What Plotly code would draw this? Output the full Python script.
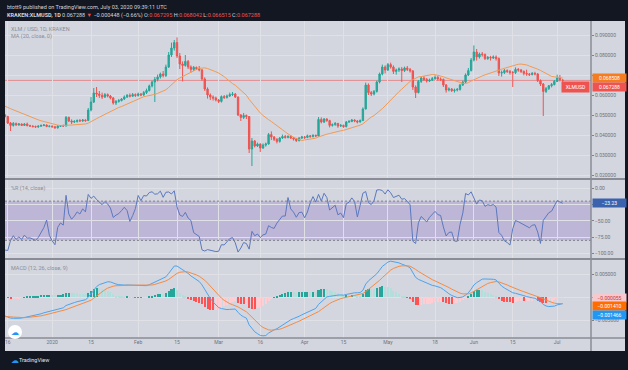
import pandas as pd
import plotly.graph_objects as go

# ---------------- data (daily XLM/USD, Kraken) ----------------
start_date = "2019-11-01"
first_open = 0.0738
last_open = 0.067295

close = [
    # Nov 2019
    0.0745, 0.0752, 0.0738, 0.0760, 0.0772, 0.0768, 0.0750, 0.0756, 0.0762, 0.0770, 0.0758, 0.0745, 0.0740, 0.0728, 0.0716,
    0.0720, 0.0714, 0.0690, 0.0684, 0.0672, 0.0630, 0.0598, 0.0606, 0.0572, 0.0580, 0.0584, 0.0580, 0.0574, 0.0585, 0.0576,
    # Dec 2019
    0.0565, 0.0558, 0.0552, 0.0542, 0.0548, 0.0552, 0.0545, 0.0540, 0.0530, 0.0520, 0.0515, 0.0512, 0.0514, 0.0500, 0.0492,
    0.0460, 0.0448, 0.0458, 0.0450, 0.0455, 0.0448, 0.0455, 0.0447, 0.0445, 0.0442, 0.0440, 0.0444, 0.0448, 0.0450, 0.0443, 0.0444,
    # Jan 2020
    0.0441, 0.0436, 0.0444, 0.0446, 0.0445, 0.0488, 0.0470, 0.0465, 0.0468, 0.0472, 0.0470, 0.0475, 0.0472, 0.0525, 0.0565,
    0.0610, 0.0605, 0.0598, 0.0590, 0.0602, 0.0595, 0.0585, 0.0560, 0.0568, 0.0572, 0.0580, 0.0590, 0.0598, 0.0594, 0.0602, 0.0598,
    # Feb 2020
    0.0605, 0.0600, 0.0612, 0.0622, 0.0645, 0.0665, 0.0678, 0.0690, 0.0705, 0.0698, 0.0740, 0.0800, 0.0835, 0.0862, 0.0795,
    0.0755, 0.0748, 0.0768, 0.0740, 0.0728, 0.0738, 0.0732, 0.0725, 0.0680, 0.0630, 0.0600, 0.0590, 0.0585, 0.0575,
    # Mar 2020
    0.0568, 0.0592, 0.0588, 0.0595, 0.0602, 0.0605, 0.0590, 0.0500, 0.0488, 0.0498, 0.0492, 0.0330, 0.0370, 0.0345, 0.0355,
    0.0335, 0.0350, 0.0355, 0.0402, 0.0390, 0.0378, 0.0368, 0.0385, 0.0392, 0.0388, 0.0393, 0.0385, 0.0380, 0.0372, 0.0385, 0.0390,
    # Apr 2020
    0.0388, 0.0396, 0.0392, 0.0398, 0.0395, 0.0478, 0.0465, 0.0480, 0.0472, 0.0448, 0.0452, 0.0458, 0.0445, 0.0448, 0.0442,
    0.0465, 0.0468, 0.0475, 0.0470, 0.0465, 0.0472, 0.0530, 0.0650, 0.0612, 0.0605, 0.0618, 0.0665, 0.0705, 0.0740, 0.0725,
    # May 2020
    0.0752, 0.0740, 0.0718, 0.0725, 0.0730, 0.0722, 0.0735, 0.0728, 0.0720, 0.0640, 0.0612, 0.0668, 0.0685, 0.0678, 0.0670,
    0.0675, 0.0682, 0.0688, 0.0680, 0.0678, 0.0650, 0.0625, 0.0630, 0.0622, 0.0625, 0.0628, 0.0650, 0.0665, 0.0700, 0.0722, 0.0775,
    # Jun 2020
    0.0815, 0.0790, 0.0805, 0.0802, 0.0782, 0.0788, 0.0785, 0.0790, 0.0782, 0.0710, 0.0712, 0.0722, 0.0718, 0.0712, 0.0712,
    0.0728, 0.0725, 0.0718, 0.0708, 0.0705, 0.0702, 0.0708, 0.0705, 0.0672, 0.0655, 0.0618, 0.0632, 0.06464, 0.0652, 0.0668,
    # Jul 2020
    0.0685, 0.067736, 0.067288,
]

high = [
    0.0758, 0.0765, 0.0758, 0.0768, 0.0785, 0.0782, 0.0775, 0.0765, 0.0770, 0.0778, 0.0775, 0.0762, 0.0752, 0.0745, 0.0735,
    0.0728, 0.0726, 0.0718, 0.0698, 0.0690, 0.0676, 0.0635, 0.0615, 0.0610, 0.0590, 0.0595, 0.0592, 0.0588, 0.0595, 0.0592,
    0.0580, 0.0570, 0.0565, 0.0560, 0.0555, 0.0560, 0.0558, 0.0550, 0.0545, 0.0535, 0.0525, 0.0520, 0.0520, 0.0518, 0.0505,
    0.0496, 0.0465, 0.0465, 0.0462, 0.0460, 0.0458, 0.0460, 0.0462, 0.0451, 0.0448, 0.0447, 0.0449, 0.0452, 0.0455, 0.0453, 0.0448,
    0.0448, 0.0445, 0.0449, 0.0450, 0.0452, 0.0495, 0.0492, 0.0478, 0.0474, 0.0478, 0.0480, 0.0480, 0.0478, 0.0535, 0.0590,
    0.0635, 0.0640, 0.0620, 0.0612, 0.0610, 0.0608, 0.0600, 0.0590, 0.0575, 0.0580, 0.0585, 0.0598, 0.0605, 0.0608, 0.0610, 0.0608,
    0.0612, 0.0610, 0.0620, 0.0632, 0.0652, 0.0672, 0.0690, 0.0702, 0.0712, 0.0720, 0.0752, 0.0815, 0.0862, 0.0875, 0.0888,
    0.0810, 0.0768, 0.0800, 0.0775, 0.0748, 0.0745, 0.0742, 0.0745, 0.0730, 0.0688, 0.0638, 0.0608, 0.0598, 0.0592,
    0.0580, 0.0598, 0.0600, 0.0602, 0.0612, 0.0615, 0.0610, 0.0592, 0.0505, 0.0510, 0.0502, 0.0495, 0.0385, 0.0375, 0.0362,
    0.0358, 0.0358, 0.0362, 0.0410, 0.0418, 0.0395, 0.0385, 0.0390, 0.0402, 0.0400, 0.0398, 0.0400, 0.0390, 0.0385, 0.0390, 0.0396,
    0.0395, 0.0402, 0.0400, 0.0404, 0.0402, 0.0490, 0.0488, 0.0485, 0.0484, 0.0476, 0.0458, 0.0465, 0.0460, 0.0455, 0.0452,
    0.0470, 0.0474, 0.0480, 0.0478, 0.0475, 0.0478, 0.0538, 0.0662, 0.0658, 0.0620, 0.0625, 0.0672, 0.0712, 0.0752, 0.0748,
    0.0760, 0.0762, 0.0748, 0.0732, 0.0738, 0.0740, 0.0742, 0.0745, 0.0735, 0.0725, 0.0648, 0.0675, 0.0692, 0.0695, 0.0685,
    0.0682, 0.0690, 0.0698, 0.0695, 0.0688, 0.0682, 0.0655, 0.0638, 0.0635, 0.0632, 0.0635, 0.0656, 0.0672, 0.0708, 0.0735, 0.0785,
    0.0848, 0.0830, 0.0812, 0.0815, 0.0808, 0.0795, 0.0796, 0.0798, 0.0798, 0.0788, 0.0722, 0.0730, 0.0728, 0.0725, 0.0720,
    0.0738, 0.0735, 0.0730, 0.0722, 0.07267, 0.0710, 0.0715, 0.0716, 0.0710, 0.0678, 0.0660, 0.0640, 0.0650, 0.0660, 0.0675,
    0.0702, 0.0700, 0.068042,
]

low = [
    0.0730, 0.0738, 0.0728, 0.0732, 0.0752, 0.0758, 0.0742, 0.0740, 0.0750, 0.0755, 0.0750, 0.0738, 0.0732, 0.0720, 0.0708,
    0.0710, 0.0705, 0.0682, 0.0675, 0.0665, 0.0620, 0.0585, 0.0590, 0.0565, 0.0555, 0.0572, 0.0570, 0.0568, 0.0570, 0.0570,
    0.0558, 0.0550, 0.0545, 0.0535, 0.0538, 0.0542, 0.0540, 0.0535, 0.0525, 0.0515, 0.0510, 0.0505, 0.0508, 0.0495, 0.0488,
    0.0455, 0.0420, 0.0442, 0.0446, 0.0447, 0.0445, 0.0446, 0.0443, 0.0440, 0.0438, 0.0436, 0.0436, 0.0441, 0.0444, 0.0439, 0.0438,
    0.0437, 0.0432, 0.0432, 0.0440, 0.0441, 0.0443, 0.0465, 0.0455, 0.0460, 0.0462, 0.0466, 0.0466, 0.0466, 0.0470, 0.0518,
    0.0560, 0.0590, 0.0585, 0.0580, 0.0585, 0.0588, 0.0578, 0.0552, 0.0550, 0.0562, 0.0568, 0.0575, 0.0585, 0.0588, 0.0590, 0.0590,
    0.0592, 0.0594, 0.0596, 0.0605, 0.0618, 0.0638, 0.0565, 0.0668, 0.0682, 0.0688, 0.0690, 0.0735, 0.0790, 0.0822, 0.0785,
    0.0730, 0.0668, 0.0742, 0.0730, 0.0712, 0.0720, 0.0725, 0.0718, 0.0672, 0.0620, 0.0582, 0.0575, 0.0572, 0.0568,
    0.0560, 0.0562, 0.0580, 0.0582, 0.0590, 0.0595, 0.0585, 0.0495, 0.0470, 0.0480, 0.0480, 0.0310, 0.0245, 0.0338, 0.0340,
    0.0315, 0.0330, 0.0342, 0.0352, 0.0375, 0.0370, 0.0358, 0.0362, 0.0380, 0.0382, 0.0383, 0.0380, 0.0372, 0.0365, 0.0368, 0.0380,
    0.0380, 0.0384, 0.0386, 0.0388, 0.0390, 0.0393, 0.0458, 0.0460, 0.0466, 0.0438, 0.0442, 0.0446, 0.0436, 0.0440, 0.0436,
    0.0438, 0.0460, 0.0464, 0.0464, 0.0458, 0.0462, 0.0470, 0.0528, 0.0600, 0.0595, 0.0598, 0.0612, 0.0658, 0.0698, 0.0708,
    0.0720, 0.0732, 0.0705, 0.0702, 0.0715, 0.0665, 0.0715, 0.0720, 0.0712, 0.0625, 0.0585, 0.0608, 0.0660, 0.0670, 0.0662,
    0.0665, 0.0670, 0.0676, 0.0672, 0.0670, 0.0640, 0.0612, 0.0618, 0.0615, 0.0612, 0.0618, 0.0622, 0.0645, 0.0660, 0.0695, 0.0718,
    0.0768, 0.0772, 0.0782, 0.0792, 0.0775, 0.0776, 0.0772, 0.0780, 0.0772, 0.0695, 0.0692, 0.0705, 0.0710, 0.0702, 0.0640,
    0.0705, 0.0716, 0.0710, 0.0698, 0.0696, 0.0695, 0.0698, 0.0698, 0.0665, 0.0645, 0.0495, 0.0610, 0.0625, 0.0638, 0.0648,
    0.0665, 0.0668, 0.066515,
]

# last values of the MACD study as printed on its scale
macd_last = -0.001466
signal_last = -0.001410
hist_last = -0.000055

tick_dates = ["2019-12-16", "2020-01-01", "2020-01-15", "2020-02-01", "2020-02-15", "2020-03-01", "2020-03-16",
              "2020-04-01", "2020-04-15", "2020-05-01", "2020-05-18", "2020-06-01", "2020-06-15", "2020-07-01"]
tick_text = ["16", "2020", "15", "Feb", "15", "Mar", "16", "Apr", "15", "May", "18", "Jun", "15", "Jul"]
price_ticks = [0.02, 0.03, 0.04, 0.05, 0.06, 0.07, 0.08, 0.09]
price_tick_text = ["0.020000", "0.030000", "0.040000", "0.050000", "0.060000", "", "0.080000", "0.090000"]
wr_ticks = [0, -25, -50, -75, -100]
wr_tick_text = ["0.00", "", "−50.00", "−75.00", "−100.00"]
macd_ticks = [0.005, 0.0, -0.005]
macd_tick_text = ["0.005000", "", "−0.005000"]
view_range = ["2019-12-15 00:00", "2020-07-13 05:00"]

# ---------------- derived series ----------------
n = min(len(close), len(high), len(low))
close, high, low = close[:n], high[:n], low[:n]
dates = pd.date_range(start_date, periods=n, freq="D")
opens = [first_open] + close[:-1]
opens[-1] = last_open
hi = [max(h, o, c) for h, o, c in zip(high, opens, close)]
lo = [min(l, o, c) for l, o, c in zip(low, opens, close)]

s = pd.Series(close, index=dates)
ma = s.rolling(20).mean()
hh = pd.Series(hi, index=dates).rolling(14).max()
ll = pd.Series(lo, index=dates).rolling(14).min()
wr = (hh - s) / (hh - ll) * -100
macd = s.ewm(span=12, adjust=False).mean() - s.ewm(span=26, adjust=False).mean()
signal = macd.ewm(span=9, adjust=False).mean()
hist = macd - signal
hcols = []
prev = 0.0
for h in hist:
    if h >= 0:
        hcols.append("#26a69a" if h > prev else "#b2dfdb")
    else:
        hcols.append("#ffcdd2" if h > prev else "#ff5252")
    prev = h

# ---------------- styling ----------------
W, H = 628, 370
BG = "#d3d6de"
GRID = "#dfe1e7"
DARK = "#131722"
UP, DN = "#26a69a", "#ef5350"
AX = "#7e818b"
LBL = "#6f727c"
FONT = "Roboto"


def px(x):
    return x / W


def py(y):
    return 1 - y / H


fig = go.Figure()
fig.add_trace(go.Candlestick(
    x=dates, open=opens, high=hi, low=lo, close=close,
    increasing=dict(line=dict(color=UP, width=1), fillcolor=UP),
    decreasing=dict(line=dict(color=DN, width=1), fillcolor=DN),
    whiskerwidth=0, xaxis="x", yaxis="y", showlegend=False, hoverinfo="skip"))
fig.add_trace(go.Scatter(x=dates, y=ma, mode="lines", line=dict(color="#f39a55", width=1),
                         xaxis="x", yaxis="y", showlegend=False, hoverinfo="skip"))
fig.add_trace(go.Scatter(x=dates, y=wr, mode="lines", line=dict(color="#5b78bf", width=1),
                         xaxis="x2", yaxis="y2", showlegend=False, hoverinfo="skip"))
fig.add_trace(go.Bar(x=dates, y=hist, marker=dict(color=hcols, line=dict(width=0)), width=86400000 * 0.75,
                     xaxis="x3", yaxis="y3", showlegend=False, hoverinfo="skip"))
fig.add_trace(go.Scatter(x=dates, y=macd, mode="lines", line=dict(color="#4da3ee", width=1),
                         xaxis="x3", yaxis="y3", showlegend=False, hoverinfo="skip"))
fig.add_trace(go.Scatter(x=dates, y=signal, mode="lines", line=dict(color="#f58b45", width=1),
                         xaxis="x3", yaxis="y3", showlegend=False, hoverinfo="skip"))

xcommon = dict(type="date", range=view_range, tickvals=tick_dates, ticktext=tick_text, showgrid=True,
               gridcolor=GRID, gridwidth=1, zeroline=False, showline=False, fixedrange=True,
               domain=[px(5), px(591)])
ycommon = dict(side="right", showgrid=True, gridcolor=GRID, gridwidth=1, zeroline=False, showline=False,
               ticks="outside", ticklen=2, tickcolor=AX, tickfont=dict(family=FONT, size=5, color=LBL),
               fixedrange=True)

fig.update_layout(
    width=W, height=H, margin=dict(l=0, r=0, t=0, b=0),
    paper_bgcolor=DARK, plot_bgcolor=BG, showlegend=False, bargap=0,
    font=dict(family=FONT),
    xaxis=dict(anchor="y", showticklabels=False, rangeslider=dict(visible=False), **xcommon),
    xaxis2=dict(anchor="y2", showticklabels=False, matches="x", **xcommon),
    xaxis3=dict(anchor="y3", showticklabels=True, matches="x", ticks="",
                tickfont=dict(family=FONT, size=5, color=LBL), **xcommon),
    yaxis=dict(anchor="x", domain=[py(179), py(21)], range=[0.018, 0.097], tickvals=price_ticks,
               ticktext=price_tick_text, **ycommon),
    yaxis2=dict(anchor="x2", domain=[py(259), py(179)], range=[-108.5, 13.85], tickvals=wr_ticks,
                ticktext=wr_tick_text, **ycommon),
    yaxis3=dict(anchor="x3", domain=[py(338), py(259)], range=[-0.00873, 0.00822], tickvals=macd_ticks,
                ticktext=macd_tick_text, **ycommon),
)

shapes = [
    dict(type="rect", xref="paper", yref="paper", x0=px(5), x1=px(625), y0=py(351), y1=py(21),
         fillcolor=BG, line=dict(width=0), layer="below"),
    dict(type="rect", xref="x2 domain", yref="y2", x0=0, x1=1, y0=-80, y1=-20,
         fillcolor="rgba(126,87,194,0.25)", line=dict(width=0), layer="below"),
    dict(type="line", xref="x2 domain", yref="y2", x0=0, x1=1, y0=-20, y1=-20,
         line=dict(color="#7e818b", width=1, dash="2px,2px")),
    dict(type="line", xref="x2 domain", yref="y2", x0=0, x1=1, y0=-80, y1=-80,
         line=dict(color="#7e818b", width=1, dash="2px,2px")),
    dict(type="line", xref="x domain", yref="y", x0=0, x1=1, y0=close[-1], y1=close[-1],
         line=dict(color="rgba(239,83,80,0.55)", width=1), layer="below"),
    dict(type="line", xref="paper", yref="paper", x0=px(5), x1=px(625), y0=py(179), y1=py(179),
         line=dict(color="#8a8d96", width=2)),
    dict(type="line", xref="paper", yref="paper", x0=px(5), x1=px(625), y0=py(259), y1=py(259),
         line=dict(color="#8a8d96", width=2)),
    dict(type="line", xref="paper", yref="paper", x0=px(5), x1=px(625), y0=py(338), y1=py(338),
         line=dict(color="#8a8d96", width=1.5)),
    dict(type="line", xref="paper", yref="paper", x0=px(591), x1=px(591), y0=py(351), y1=py(21),
         line=dict(color="#8a8d96", width=1.5)),
    dict(type="circle", xref="paper", yref="paper", x0=px(8), x1=px(22), y0=py(339), y1=py(325),
         fillcolor="white", line=dict(width=0)),
]
fig.update_layout(shapes=shapes)

RED = "#ef5350"
chg = close[-1] - close[-2]
pct = chg / close[-2] * 100
hdr2 = (f"<b>KRAKEN:XLMUSD, 1D</b> {close[-1]:.6f} <span style='color:{RED}'>▼</span> "
        f"{chg:.6f} ({pct:.2f}%) "
        f"O:<span style='color:{RED}'>{opens[-1]:.6f}</span> H:<span style='color:{RED}'>{hi[-1]:.6f}</span> "
        f"L:<span style='color:{RED}'>{lo[-1]:.6f}</span> C:<span style='color:{RED}'>{close[-1]:.6f}</span>")
hdr2 = hdr2.replace("-", "−")

ann = []


def text(x, y, t, size=5.5, color="#8a8d98", xanchor="left"):
    ann.append(dict(x=px(x), y=py(y), xref="paper", yref="paper", text=t, showarrow=False,
                    xanchor=xanchor, yanchor="middle", font=dict(family=FONT, size=size, color=color)))


text(5, 7, "btott9 published on TradingView.com, July 03, 2020 09:39:11 UTC", 5.5, "#d1d4dc")
text(5, 15, hdr2, 5.5, "#d1d4dc")
text(9, 29, "XLM / USD, 1D, KRAKEN", 5.5)
text(9, 37, "MA (20, close, 0)", 5.5)
text(9, 188, "%R (14, close)", 5.5)
text(9, 268, "MACD (12, 26, close, 9)", 5.5)
text(17, 360, "TradingView", 5.5, "#e0e3eb")
text(8.5, 360, "☁", 8, "#2196f3")
text(15, 332, "☁", 8, "#2196f3", "center")


def value_txt(v):
    return f"{v:.6f}".replace("-", "−")


def tag(value, yref, bg, fg, yshift=0, label=None, w=33):
    ann.append(dict(x=px(592), y=value, xref="paper", yref=yref, text=label or value_txt(value),
                    showarrow=False, xanchor="left", yanchor="middle", yshift=yshift, width=w, height=8,
                    bgcolor=bg, borderpad=0, align="center",
                    font=dict(family=FONT, size=5, color=fg)))


tag(ma.iloc[-1], "y", "#f57c1f", "white", 0)
tag(close[-1], "y", RED, "white", -7)
ann.append(dict(x=px(590), y=close[-1], xref="paper", yref="y", text="XLMUSD", showarrow=False,
                xanchor="right", yanchor="middle", yshift=-7, width=25, height=8, bgcolor=RED,
                font=dict(family=FONT, size=5, color="white")))
tag(wr.iloc[-1], "y2", "#3b63ad", "white", 0, label=f"{wr.iloc[-1]:.2f}".replace("-", "−"))
tag(hist_last, "y3", "#f8c8cf", "#c0393b", 0)
tag(signal_last, "y3", "#ff6d00", "white", -2.5)
tag(macd_last, "y3", "#2196f3", "white", -10.5)

fig.update_layout(annotations=ann)
fig.write_html("out.html", config={"displayModeBar": False},
               post_script="document.body.style.margin='0';document.body.style.overflow='hidden';")
